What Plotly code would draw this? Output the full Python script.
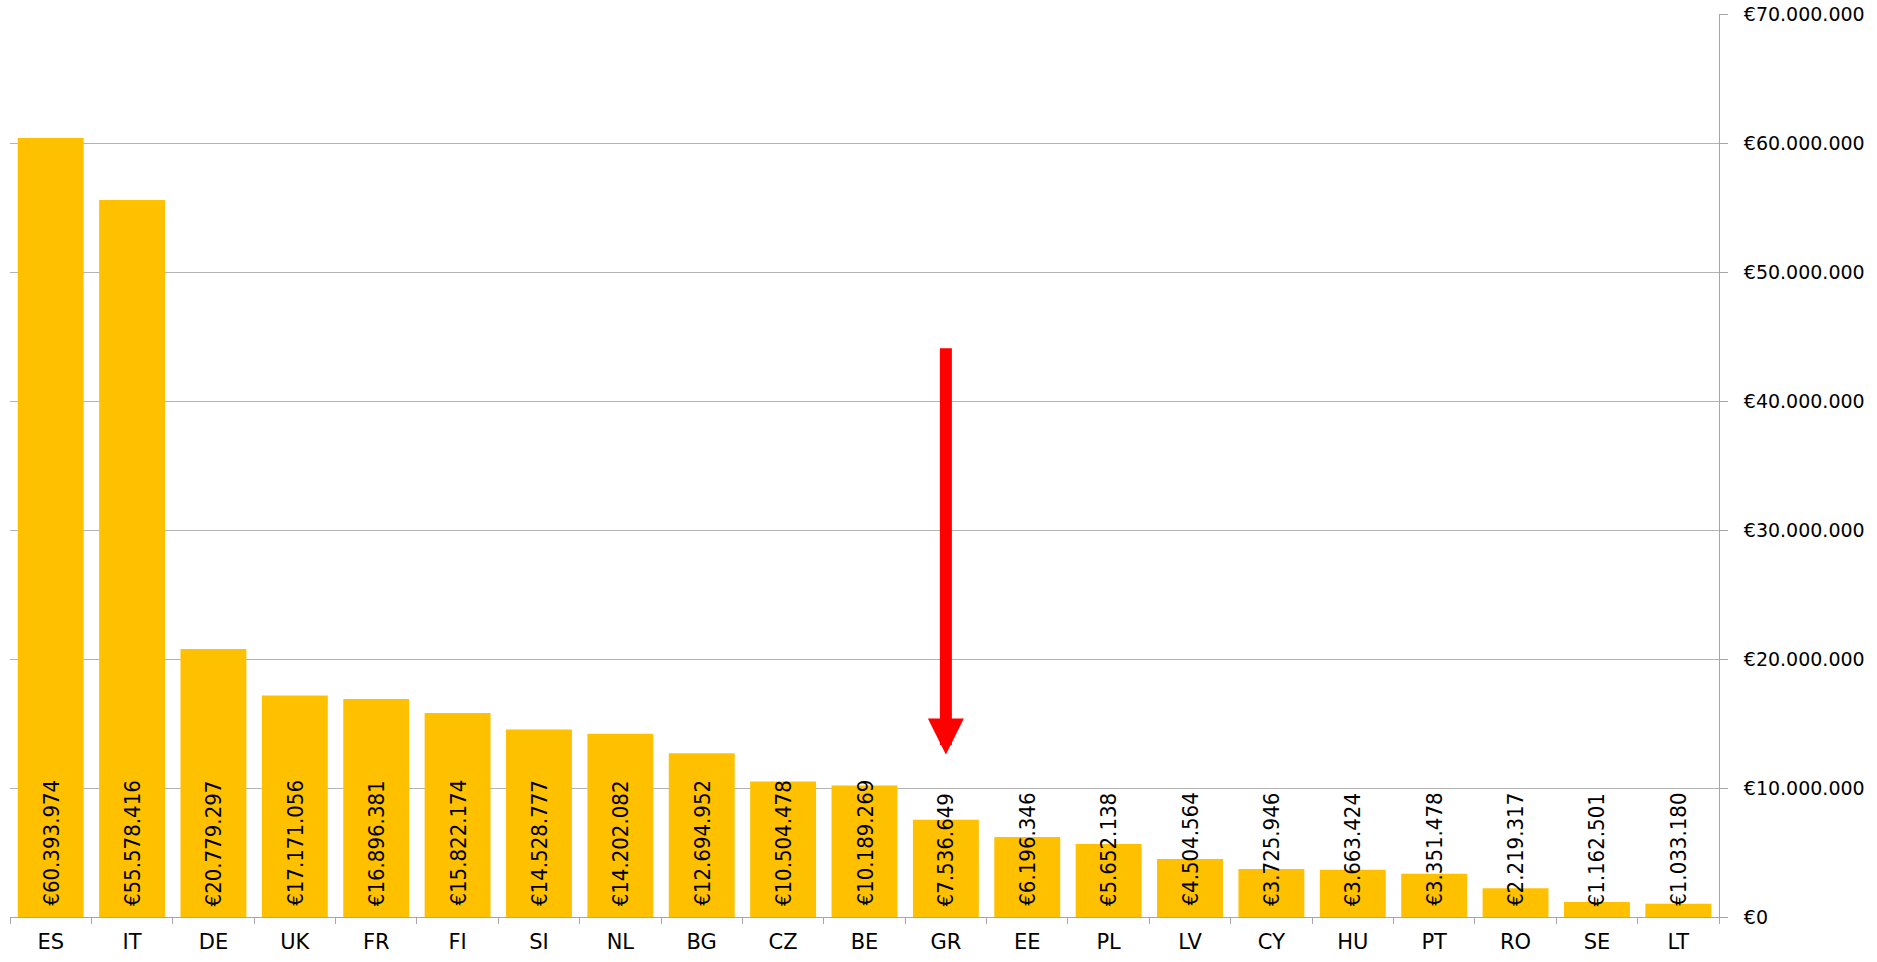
import plotly.graph_objects as go

countries = ["ES", "IT", "DE", "UK", "FR", "FI", "SI", "NL", "BG", "CZ", "BE",
             "GR", "EE", "PL", "LV", "CY", "HU", "PT", "RO", "SE", "LT"]
amounts = [60393974, 55578416, 20779297, 17171056, 16896381, 15822174, 14528777,
           14202082, 12694952, 10504478, 10189269, 7536649, 6196346, 5652138,
           4504564, 3725946, 3663424, 3351478, 2219317, 1162501, 1033180]
y_ticks = [0, 10000000, 20000000, 30000000, 40000000, 50000000, 60000000, 70000000]
arrow_country = "GR"
arrow_from = 44200000
arrow_to = 12600000


def euro(v):
    return "€" + f"{v:,}".replace(",", ".")


fig = go.Figure()
fig.add_trace(go.Bar(
    x=countries, y=amounts,
    marker=dict(color="#FFC000", line=dict(width=0)),
    hoverinfo="x+y",
))

annotations = []
for c, v in zip(countries, amounts):
    annotations.append(dict(
        x=c, y=0, xref="x", yref="y", text=euro(v), showarrow=False,
        textangle=-90, xanchor="center", yanchor="bottom", yshift=9,
        font=dict(family="Liberation Sans Narrow, DejaVu Sans Condensed, sans-serif",
                  size=22, color="#000000"),
    ))

annotations.append(dict(
    x=arrow_country, y=arrow_to, xref="x", yref="y",
    ax=arrow_country, ay=arrow_from, axref="x", ayref="y",
    text="", showarrow=True, arrowhead=2, arrowwidth=12, arrowsize=0.6,
    arrowcolor="#FF0000", standoff=0,
))

fig.update_layout(
    width=1877, height=962,
    margin=dict(l=10, r=158, t=14, b=45),
    paper_bgcolor="white", plot_bgcolor="white",
    showlegend=False,
    bargap=0.19,
    annotations=annotations,
    xaxis=dict(
        type="category", range=[-0.5, len(countries) - 0.5],
        showline=True, linecolor="#a6a6a6", linewidth=1,
        ticks="outside", tickson="boundaries", ticklen=6, tickcolor="#a6a6a6",
        tickfont=dict(family="DejaVu Sans, sans-serif", size=21, color="#000000"),
        ticklabelstandoff=6,
        showgrid=False, zeroline=False, fixedrange=True, automargin=False,
    ),
    yaxis=dict(
        side="right", range=[0, 70000000],
        tickvals=y_ticks, ticktext=[euro(t) for t in y_ticks],
        showline=True, linecolor="#a6a6a6", linewidth=1,
        ticks="outside", ticklen=8, tickcolor="#a6a6a6",
        showgrid=True, gridcolor="#b4b4b4", gridwidth=1,
        zeroline=False,
        tickfont=dict(family="DejaVu Sans, sans-serif", size=19, color="#000000"),
        ticklabelstandoff=12, ticklabeloverflow="allow",
        fixedrange=True, automargin=False,
    ),
)

fig.write_html(
    "out.html",
    config={"displayModeBar": False},
    post_script="document.body.style.margin='0';document.body.style.overflow='hidden';",
)
